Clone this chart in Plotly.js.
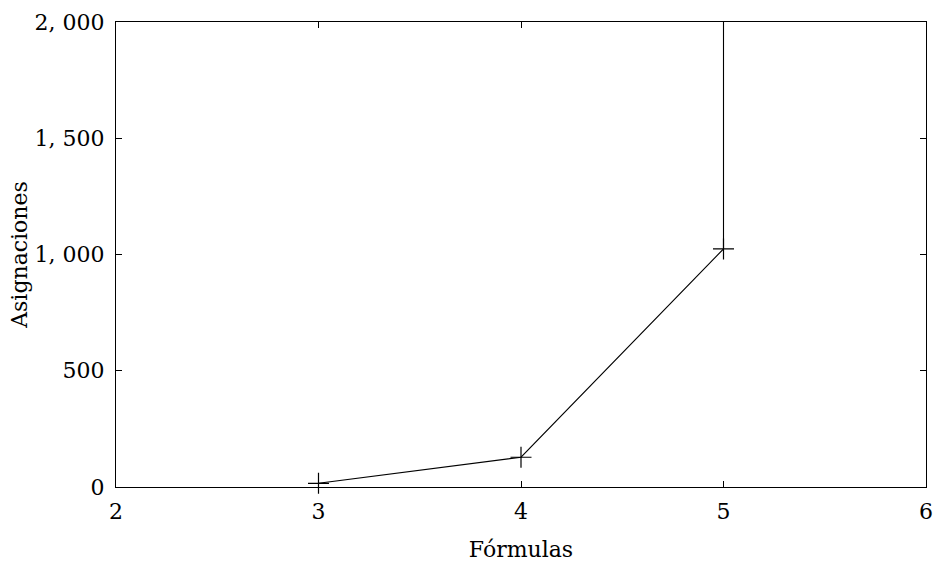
<!DOCTYPE html>
<html>
<head>
<meta charset="utf-8">
<script src="https://cdn.plot.ly/plotly-3.0.1.min.js"></script>
<style>html,body{margin:0;padding:0;background:#fff;}#chart{width:934px;height:569px;}</style>
</head>
<body>
<div id="chart"></div>
<script>
const formulas = [3, 4, 5, 6];
const asignaciones = [16, 128, 1024, 4294967296];
const xTicks = [2, 3, 4, 5, 6];
const xTickText = ["2", "3", "4", "5", "6"];
const yTicks = [0, 500, 1000, 1500, 2000];
const yTickText = ["0", "500", "1, 000", "1, 500", "2, 000"];

const font = {family: "DejaVu Serif", size: 22, color: "#000"};

const trace = {
  x: formulas,
  y: asignaciones,
  type: "scatter",
  mode: "lines+markers",
  line: {color: "#000", width: 1.1},
  marker: {symbol: "cross-thin-open", size: 15, color: "#000", line: {color: "#000", width: 1.2}},
  cliponaxis: false,
  showlegend: false
};

const layout = {
  width: 934, height: 569,
  margin: {l: 116, r: 8, t: 22, b: 82},
  paper_bgcolor: "#fff", plot_bgcolor: "#fff",
  font: font,
  xaxis: {
    range: [2, 6], tickvals: xTicks, ticktext: xTickText,
    showgrid: false, zeroline: false, showline: true, mirror: "ticks",
    linecolor: "#000", linewidth: 1, ticks: "inside", ticklen: 6, tickcolor: "#000", tickwidth: 1,
    tickfont: font, ticklabelstandoff: 5,
    title: {text: "Fórmulas", font: font, standoff: 18}
  },
  yaxis: {
    range: [0, 2000], tickvals: yTicks, ticktext: yTickText,
    showgrid: false, zeroline: false, showline: true, mirror: "ticks",
    linecolor: "#000", linewidth: 1, ticks: "inside", ticklen: 6, tickcolor: "#000", tickwidth: 1,
    tickfont: font, ticklabelstandoff: 6,
    title: {text: "Asignaciones", font: font, standoff: 0}
  }
};

Plotly.newPlot("chart", [trace], layout, {staticPlot: true, displayModeBar: false});
</script>
</body>
</html>
